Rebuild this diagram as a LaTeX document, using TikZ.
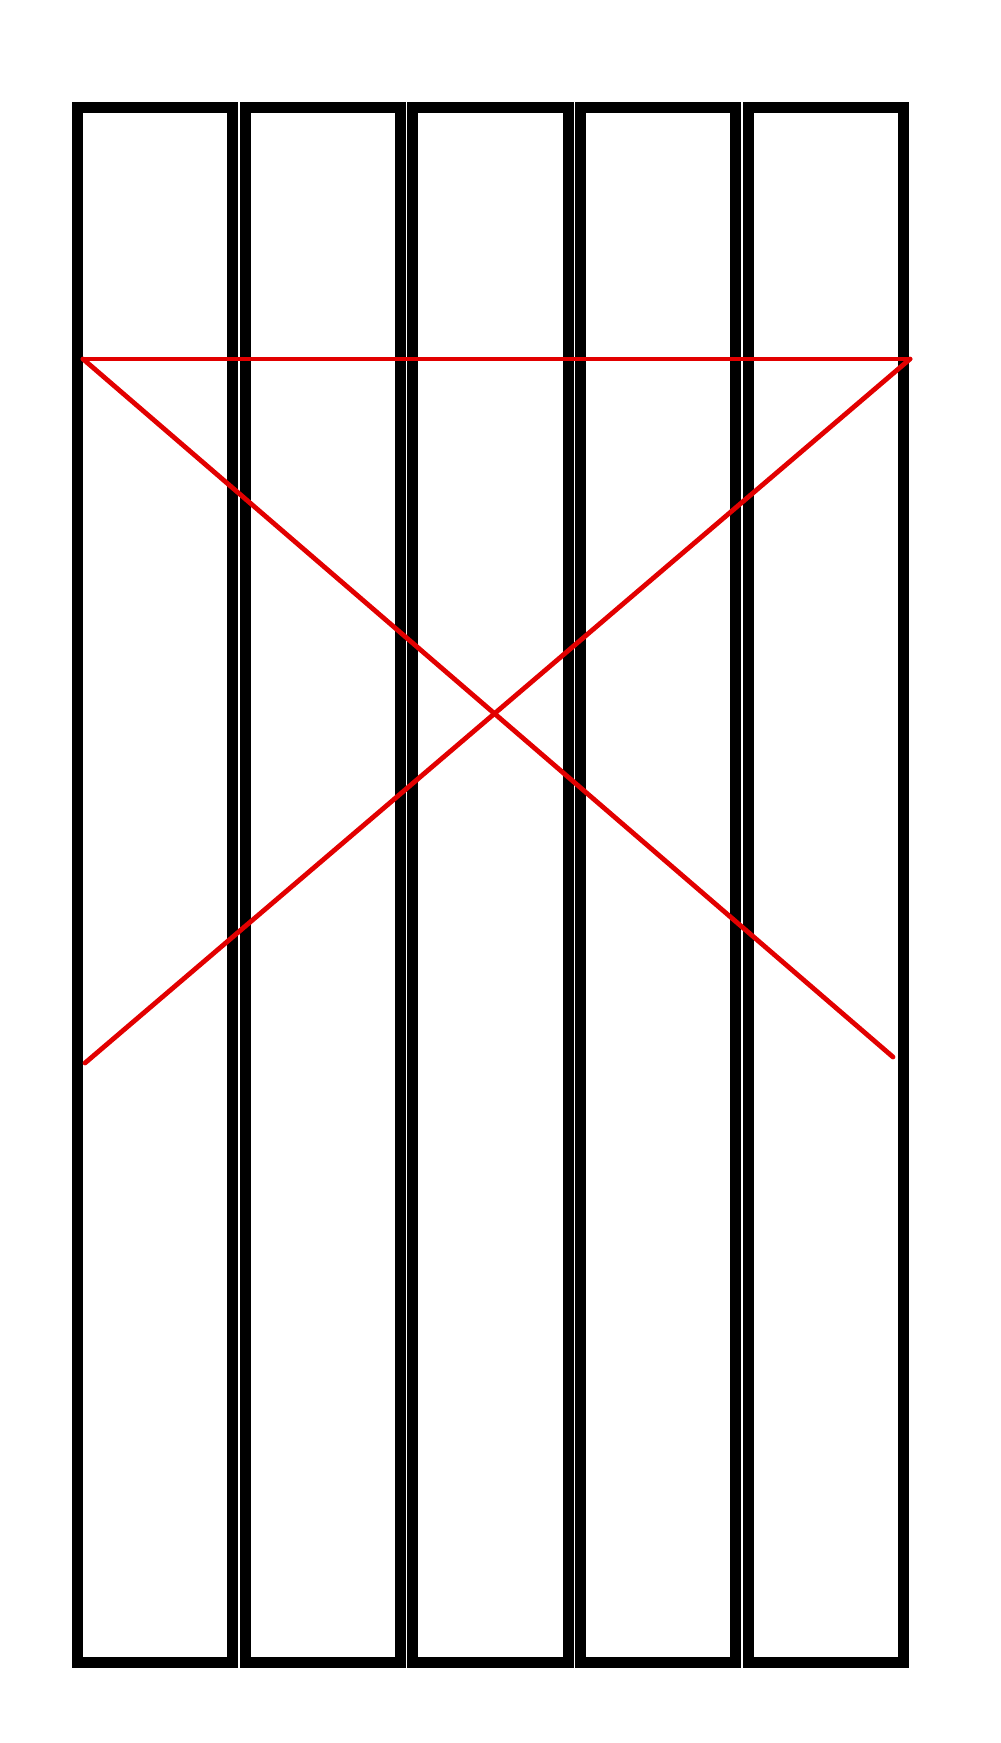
\documentclass[tikz,border=0pt]{standalone}
\usepackage{tikz}
\usetikzlibrary{positioning}
\definecolor{crossred}{RGB}{226,0,0}

\begin{document}
\begin{tikzpicture}
    [x=0.01cm, y=-0.01cm,
 panel/.style ={rectangle, draw=black, line width=0.11cm, minimum width=1.55cm, minimum height=15.54cm, inner sep=0pt},
 brace/.style ={draw=crossred, line width=0.048cm, line cap=round}]
        \useasboundingbox (0,0) rectangle (1000,1743);
        % five planks
        \foreach \i in {1,...,5}
            \node[panel] (p\i) at ({155+167.75*(\i-1)}, 885) {};
        % ends of the red bracing
        \coordinate (topL) at (83, 359);
        \coordinate (topR) at (910, 359);
        \coordinate (lowL) at (85, 1063);
        \coordinate (lowR) at (893, 1057);
        \draw[brace] (topL) -- (topR);
        \draw[brace] (topL) -- (lowR);
        \draw[brace] (topR) -- (lowL);
    \end{tikzpicture}
\end{document}
